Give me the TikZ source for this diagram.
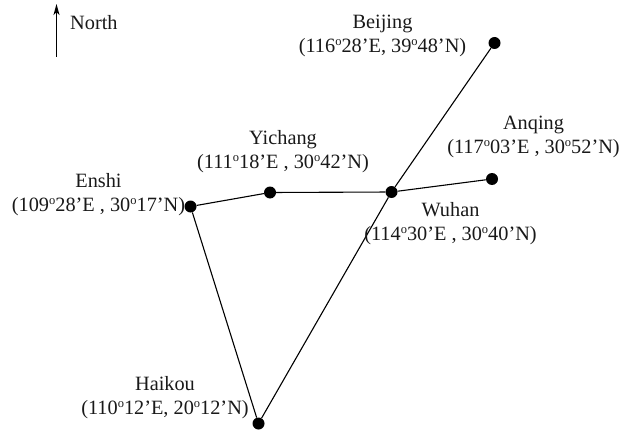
\documentclass[tikz,border=0pt]{standalone}
\usepackage{fontspec}
\setmainfont{Liberation Serif}
\usetikzlibrary{arrows.meta}
\newcommand{\dg}{\raisebox{0.36em}{\fontsize{12.5}{13}\selectfont o}}
\tikzset{
  x=1pt,y=-1pt,
  city/.style={circle,fill=black,inner sep=0pt,minimum size=12pt},
  road/.style={line width=1.1pt,black},
  lab/.style={align=center,inner sep=0pt,font=\fontsize{20.3}{24}\selectfont,text=black!90},
  northarrow/.style={line width=1.1pt,-{Stealth[length=11pt,width=6pt,inset=3pt]}}
}
\begin{document}
\begin{tikzpicture}
\useasboundingbox (0,0) rectangle (634,433);
\node[city] (beijing) at (494.5,43) {};
\node[city] (anqing) at (492,179) {};
\node[city] (wuhan) at (391.5,192) {};
\node[city] (yichang) at (270,192.5) {};
\node[city] (enshi) at (190.5,206.5) {};
\node[city] (haikou) at (258.5,423.5) {};
\draw[road] (beijing) -- (wuhan);
\draw[road] (wuhan) -- (haikou);
\draw[road] (haikou) -- (enshi);
\draw[road] (enshi) -- (yichang);
\draw[road] (yichang) -- (wuhan);
\draw[road] (wuhan) -- (anqing);
\coordinate (ntail) at (56.5,57);
\coordinate (nhead) at (56.5,4);
\draw[northarrow] (ntail) -- (nhead);
\node[lab,anchor=west] (northlab) at (70,22.5) {North};
\node[lab] (blab) at (382.5,36) {Beijing\\(116\dg28’E, 39\dg48’N)};
\node[lab] (alab) at (533.5,137) {Anqing\\(117\dg03’E , 30\dg52’N)};
\node[lab] (ylab) at (283,152) {Yichang\\(111\dg18’E , 30\dg42’N)};
\node[lab] (wlab) at (450.5,224) {Wuhan\\(114\dg30’E , 30\dg40’N)};
\node[lab] (elab) at (98.5,195) {Enshi\\(109\dg28’E , 30\dg17’N)};
\node[lab] (hlab) at (165,398) {Haikou\\(110\dg12’E, 20\dg12’N)};
\end{tikzpicture}
\end{document}
